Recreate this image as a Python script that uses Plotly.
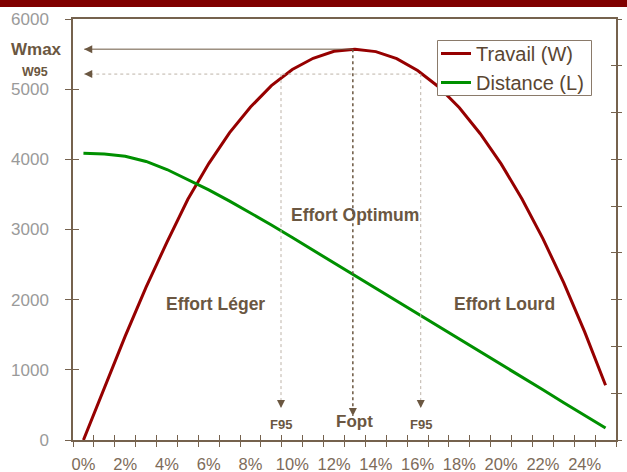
import plotly.graph_objects as go

# ---------------- data ----------------
pct = [0, 1, 2, 3, 4, 5, 6, 7, 8, 9, 10, 11, 12, 13, 14, 15, 16, 17, 18, 19, 20, 21, 22, 23, 24, 25]
tick_pos = [0, 2, 4, 6, 8, 10, 12, 14, 16, 18, 20, 22, 24]
tick_labels = ["0%", "2%", "4%", "6%", "8%", "10%", "12%", "14%", "16%", "18%", "20%", "22%", "24%"]

travail = [0, 745, 1480, 2180, 2820, 3430, 3940, 4380, 4745, 5050, 5280, 5440, 5540, 5570, 5535,
           5435, 5265, 5035, 4735, 4365, 3935, 3435, 2870, 2240, 1540, 780]
distance = [4085, 4075, 4045, 3970, 3855, 3715, 3565, 3405, 3240, 3065, 2885, 2705, 2525, 2345, 2160,
            1980, 1800, 1620, 1440, 1255, 1075, 895, 715, 530, 350, 170]

y_ticks = [0, 1000, 2000, 3000, 4000, 5000, 6000]

W_MAX = 5570
W_95 = 5215
F_OPT = 12.9
F95_LOW = 9.46
F95_HIGH = 16.15
X_START = 0.04
TIP_F95 = 456
TIP_FOPT = 342

region_labels = ["Effort Léger", "Effort Optimum", "Effort Lourd"]
region_x = [6.34, 13.0, 20.18]
region_y = [1938, 3206, 1938]

# ---------------- styles ----------------
BROWN = "#6b5741"
LINE_BROWN = "#75624e"
LIGHT_DOT = "#bdb3a8"
RED = "#960000"
GREEN = "#009000"
FONT = "Liberation Sans, Arial, sans-serif"

PW, PH = 543, 421  # plot area size in px
def px_x(p):
    return (p - 73) / PW
def px_y(p):
    return (440 - p) / PH

fig = go.Figure()
fig.add_trace(go.Scatter(x=pct, y=travail, mode="lines", name="Travail (W)",
                         line=dict(color=RED, width=3)))
fig.add_trace(go.Scatter(x=pct, y=distance, mode="lines", name="Distance (L)",
                         line=dict(color=GREEN, width=3)))
# dummy traces for overlay axes
for xa, ya in [("x2", "y"), ("x3", "y"), ("x", "y2"), ("x", "y3"), ("x", "y4")]:
    fig.add_trace(go.Scatter(x=[None], y=[None], xaxis=xa, yaxis=ya, showlegend=False,
                             hoverinfo="skip"))

half = [p - 0.5 for p in pct] + [pct[-1] + 0.5]
xr = [-0.5, 25.5]

fig.update_layout(
    width=627, height=472,
    margin=dict(l=73, r=11, t=19, b=32, autoexpand=False),
    paper_bgcolor="white", plot_bgcolor="white",
    font=dict(family=FONT, color=BROWN),
    showlegend=True,
    legend=dict(x=px_x(436), y=px_y(34), xanchor="left", yanchor="top",
                bgcolor="rgba(0,0,0,0)", borderwidth=0,
                font=dict(size=20, color="#5a4632", family=FONT)),
    xaxis=dict(range=xr, tickmode="array", tickvals=half, ticks="outside", ticklen=5,
               tickcolor=LINE_BROWN, tickwidth=1.2, showticklabels=False, automargin=False,
               showline=True, linecolor=LINE_BROWN, linewidth=1.5, mirror=True,
               showgrid=False, zeroline=False),
    xaxis2=dict(range=xr, overlaying="x", anchor="y", side="bottom", tickmode="array",
                tickvals=half, ticks="inside", ticklen=5, tickcolor=LINE_BROWN, tickwidth=1.2,
                automargin=False,
                showticklabels=False, showline=False, showgrid=False, zeroline=False),
    xaxis3=dict(range=xr, overlaying="x", anchor="y", side="bottom", tickmode="array",
                tickvals=tick_pos, ticktext=tick_labels, ticks="", ticklabelstandoff=12,
                tickfont=dict(size=16.5, color="#7d6b59", family=FONT), automargin=False,
                showline=False, showgrid=False, zeroline=False),
    yaxis=dict(range=[0, 6000], tickmode="array", tickvals=y_ticks, ticks="outside", ticklen=6,
               tickcolor=LINE_BROWN, tickwidth=1.2, tickfont=dict(size=17, color="#9a9a9a", family=FONT),
               ticklabelstandoff=13, automargin=False,
               showline=True, linecolor=LINE_BROWN, linewidth=1.5, mirror=True,
               showgrid=False, zeroline=False),
    yaxis2=dict(range=[0, 6000], overlaying="y", anchor="x", side="left", tickmode="array",
                tickvals=y_ticks, ticks="inside", ticklen=6, tickcolor=LINE_BROWN, tickwidth=1.2,
                automargin=False,
                showticklabels=False, showline=False, showgrid=False, zeroline=False),
    yaxis3=dict(range=[0, 9], overlaying="y", anchor="x", side="right", dtick=1, tick0=0,
                ticks="outside", ticklen=5, tickcolor=LINE_BROWN, tickwidth=1.2, automargin=False,
                showticklabels=False, showline=False, showgrid=False, zeroline=False),
    yaxis4=dict(range=[0, 9], overlaying="y", anchor="x", side="right", dtick=1, tick0=0,
                ticks="inside", ticklen=5, tickcolor=LINE_BROWN, tickwidth=1.2, automargin=False,
                showticklabels=False, showline=False, showgrid=False, zeroline=False),
)

shapes = [
    # top band
    dict(type="rect", xref="paper", yref="paper", x0=px_x(-2), x1=px_x(630),
         y0=px_y(7), y1=px_y(-2), fillcolor="#800000", line=dict(width=0),
         layer="above"),
    # legend box
    dict(type="rect", xref="paper", yref="paper", x0=px_x(437.5), x1=px_x(591.5),
         y0=px_y(95.5), y1=px_y(40.5), fillcolor="white",
         line=dict(color="#8a7a6a", width=1), layer="above"),
    # Wmax line
    dict(type="line", xref="x", yref="y", x0=X_START, x1=F_OPT, y0=W_MAX, y1=W_MAX,
         line=dict(color=BROWN, width=1)),
    # W95 line
    dict(type="line", xref="x", yref="y", x0=X_START, x1=F95_HIGH, y0=W_95, y1=W_95,
         line=dict(color=LIGHT_DOT, width=1, dash="dot")),
    # F95 verticals
    dict(type="line", xref="x", yref="y", x0=F95_LOW, x1=F95_LOW, y0=W_95, y1=TIP_F95,
         line=dict(color=LIGHT_DOT, width=1, dash="dot")),
    dict(type="line", xref="x", yref="y", x0=F95_HIGH, x1=F95_HIGH, y0=W_95, y1=TIP_F95,
         line=dict(color=LIGHT_DOT, width=1, dash="dot")),
    # Fopt vertical
    dict(type="line", xref="x", yref="y", x0=F_OPT, x1=F_OPT, y0=W_MAX, y1=TIP_FOPT,
         line=dict(color=BROWN, width=1.5, dash="dot")),
]
fig.update_layout(shapes=shapes)

anns = []
arrow_style = dict(text="", showarrow=True, arrowhead=2, arrowsize=1.6, arrowwidth=1,
                   arrowcolor=BROWN, xref="x", yref="y", standoff=0)
anns.append(dict(x=X_START, y=W_MAX, ax=9, ay=0, **arrow_style))
anns.append(dict(x=X_START, y=W_95, ax=9, ay=0, **arrow_style))
anns.append(dict(x=F95_LOW, y=TIP_F95, ax=0, ay=-9, **arrow_style))
anns.append(dict(x=F95_HIGH, y=TIP_F95, ax=0, ay=-9, **arrow_style))
anns.append(dict(x=F_OPT, y=TIP_FOPT, ax=0, ay=-9, **arrow_style))

bold = lambda s: f"<b>{s}</b>"
anns.append(dict(text=bold("Wmax"), xref="paper", yref="y", x=px_x(64), y=W_MAX,
                 xanchor="right", yanchor="middle", showarrow=False,
                 font=dict(size=17, color=BROWN, family=FONT)))
anns.append(dict(text=bold("W95"), xref="paper", yref="y", x=px_x(50), y=W_95, yshift=2,
                 xanchor="right", yanchor="middle", showarrow=False,
                 font=dict(size=12.5, color=BROWN, family=FONT)))
anns.append(dict(text=bold("F95"), xref="x", yref="y", x=F95_LOW, y=228,
                 xanchor="center", yanchor="middle", showarrow=False,
                 font=dict(size=13, color=BROWN, family=FONT)))
anns.append(dict(text=bold("F95"), xref="x", yref="y", x=F95_HIGH, y=228,
                 xanchor="center", yanchor="middle", showarrow=False,
                 font=dict(size=13, color=BROWN, family=FONT)))
anns.append(dict(text=bold("Fopt"), xref="x", yref="y", x=F_OPT + 0.1, y=270,
                 xanchor="center", yanchor="middle", showarrow=False,
                 font=dict(size=17, color=BROWN, family=FONT)))
for t, xx, yy in zip(region_labels, region_x, region_y):
    anns.append(dict(text=bold(t), xref="x", yref="y", x=xx, y=yy,
                     xanchor="center", yanchor="middle", showarrow=False,
                     font=dict(size=17.5, color=BROWN, family=FONT)))
fig.update_layout(annotations=anns)

fig.write_html("out.html", config={"displayModeBar": False},
               post_script="document.body.style.margin='0';")
